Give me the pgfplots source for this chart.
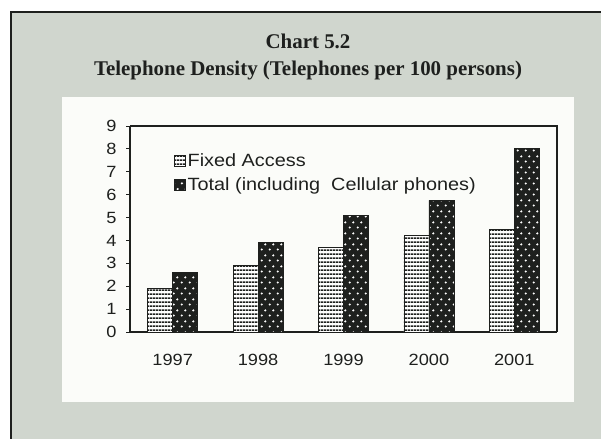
\documentclass[border=0pt]{standalone}
\usepackage{pgfplots}
\pgfplotsset{compat=1.18}
\usepackage{fontspec}
\setmainfont{Liberation Serif}
\newfontfamily\arial[FakeStretch=1.12]{Liberation Sans}
\usetikzlibrary{patterns}

\definecolor{bg}{RGB}{208,214,206}
\definecolor{panel}{RGB}{251,252,249}
\definecolor{ink}{RGB}{30,32,30}

\pgfdeclarepatternformonly{hstripes}{\pgfpointorigin}{\pgfpoint{3bp}{3.6bp}}{\pgfpoint{3bp}{3.6bp}}{%
  \pgfpathrectangle{\pgfpointorigin}{\pgfpoint{3bp}{1.8bp}}\pgfusepath{fill}}
\pgfdeclarepatternformonly{sdots}{\pgfpointorigin}{\pgfpoint{7.5bp}{11bp}}{\pgfpoint{7.5bp}{11bp}}{%
  \pgfpathcircle{\pgfpoint{1.9bp}{2.75bp}}{1.25bp}%
  \pgfpathcircle{\pgfpoint{5.65bp}{8.25bp}}{1.25bp}%
  \pgfusepath{fill}}

\begin{document}
\begin{tikzpicture}
\fill[white] (0,0) rectangle (601bp,-439bp);
\useasboundingbox (0,0) rectangle (601bp,-439bp);
\fill[bg] (11bp,-12bp) rectangle (601bp,-439bp);
\draw[ink, line width=2.2bp] (11bp,-439bp) -- (11bp,-12bp) -- (601bp,-12bp);
\fill[panel] (62bp,-97bp) rectangle (574bp,-402bp);
\node[anchor=base, font=\bfseries\fontsize{21}{24}\selectfont, text=ink] at (308bp,-48bp) {Chart 5.2};
\node[anchor=base, font=\bfseries\fontsize{21}{24}\selectfont, text=ink] at (308bp,-75bp) {Telephone Density (Telephones per 100 persons)};

\begin{axis}[
  at={(130bp,-332bp)}, anchor=south west,
  x=85.4bp, y=22.89bp,
  xmin=-0.5, xmax=4.5, ymin=0, ymax=9,
  ybar=0pt, bar width=25bp,
  xtick={0,1,2,3,4}, xticklabels={1997,1998,1999,2000,2001},
  x tick style={draw=none},
  ytick={0,1,2,3,4,5,6,7,8,9},
  tick align=outside, major tick length=4bp,
  ytick style={ink, line width=0.8bp},
  axis line style={ink, line width=1.3bp},
  axis x line*=bottom, axis y line*=left,
  ticklabel style={font=\arial\fontsize{16.3}{18}\selectfont, text=ink},
  xticklabel style={yshift=-15bp},
  yticklabel style={xshift=-6bp},
  /pgf/number format/assume math mode=true,
  legend style={draw=none, fill=none, at={(0.103,0.875)}, anchor=north west,
    inner sep=0pt, outer sep=0pt,
    font=\arial\fontsize{17.8}{20}\selectfont, text=ink, row sep=6bp,
    nodes={inner sep=2bp},
    /tikz/every even column/.append style={column sep=0bp}},
  legend cell align=left,
  legend image code/.code={\draw[#1, line width=0.7bp] (0bp,-5bp) rectangle (11bp,6bp);},
  clip=false,
]
\addplot[draw=ink, line width=0.8bp, fill=white, postaction={pattern=hstripes, pattern color=ink}]
  coordinates {(0,1.9) (1,2.9) (2,3.7) (3,4.2) (4,4.5)};
\addlegendentry{Fixed Access}
\addplot[draw=ink, line width=0.8bp, fill=ink, postaction={pattern=sdots, pattern color=white}]
  coordinates {(0,2.6) (1,3.9) (2,5.1) (3,5.75) (4,8.0)};
\addlegendentry{Total (including\ \ Cellular phones)}
\end{axis}
\draw[ink, line width=1.3bp] (130bp,-126bp) -- (557bp,-126bp) -- (557bp,-332bp);
\end{tikzpicture}
\end{document}
